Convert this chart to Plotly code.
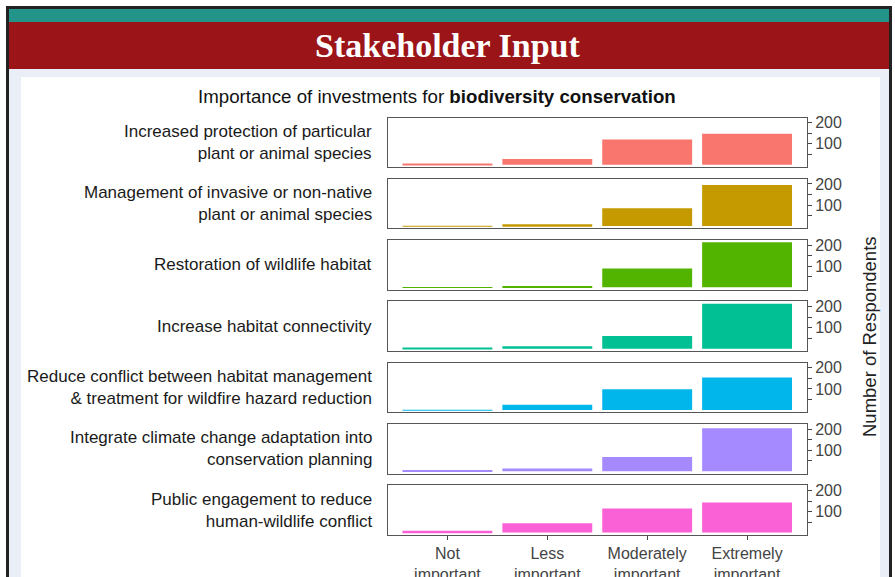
import plotly.graph_objects as go

# DATA
levels = ['Not important', 'Less important', 'Moderately important', 'Extremely important']
level_ticks = ['Not<br>important', 'Less<br>important', 'Moderately<br>important', 'Extremely<br>important']

investments = [
    'Increased protection of particular<br>plant or animal species',
    'Management of invasive or non-native<br>plant or animal species',
    'Restoration of wildlife habitat',
    'Increase habitat connectivity',
    'Reduce conflict between habitat management<br>& treatment for wildfire hazard reduction',
    'Integrate climate change adaptation into<br>conservation planning',
    'Public engagement to reduce<br>human-wildlife conflict',
]

protection = [2, 27, 120, 147]
invasive = [1, 8, 85, 195]
restoration = [1, 6, 90, 214]
connectivity = [3, 12, 60, 214]
wildfire = [1, 25, 98, 154]
climate = [6, 13, 68, 205]
public = [8, 44, 114, 143]

counts = [protection, invasive, restoration, connectivity, wildfire, climate, public]
colors = ['#F8766D', '#C49A00', '#53B400', '#00C094', '#00B6EB', '#A58AFF', '#FB61D7']

W, H = 895, 577


def px_x(x):
    return x / W


def px_y(y):
    return 1 - y / H


fig = go.Figure()

# page decoration (window pixels)
shapes = [
    dict(type='rect', x0=px_x(6), x1=px_x(892), y0=px_y(6), y1=px_y(577), fillcolor='#222222', line_width=0),
    dict(type='rect', x0=px_x(9), x1=px_x(889), y0=px_y(9), y1=px_y(577), fillcolor='#e9eef7', line_width=0),
    dict(type='rect', x0=px_x(9), x1=px_x(889), y0=px_y(9), y1=px_y(22), fillcolor='#22948a', line_width=0),
    dict(type='rect', x0=px_x(9), x1=px_x(889), y0=px_y(22), y1=px_y(69), fillcolor='#9b1418', line_width=0),
    dict(type='rect', x0=px_x(21), x1=px_x(880), y0=px_y(77), y1=px_y(577), fillcolor='#ffffff', line_width=0),
]

x0, x1 = px_x(387.5), px_x(807)
top0, step, ph = 117.5, 61.3, 49.5
sans = 'Liberation Sans, Arial'

annotations = []
for i, (name, vals, col) in enumerate(zip(investments, counts, colors)):
    n = '' if i == 0 else str(i + 1)
    top = top0 + i * step
    fig.add_trace(go.Bar(
        x=levels, y=vals, marker=dict(color=col, line_width=0), width=0.9,
        xaxis='x' + n, yaxis='y' + n, showlegend=False,
    ))
    fig.update_layout(**{
        'xaxis' + n: dict(
            domain=[x0, x1], anchor='y' + n, type='category', range=[-0.6, 3.6],
            automargin=False,
            showline=True, mirror=True, linecolor='#555555', linewidth=1,
            showgrid=False, zeroline=False, fixedrange=True,
            ticks='outside' if i == 6 else '', ticklen=4, tickcolor='#444444',
            showticklabels=(i == 6), tickvals=levels, ticktext=level_ticks,
            tickfont=dict(family=sans, size=16, color='#444444'),
        ),
        'yaxis' + n: dict(
            domain=[px_y(top + ph), px_y(top)], anchor='x' + n, side='right',
            range=[-10.7, 224.7], automargin=False,
            showline=True, mirror=True, linecolor='#555555',
            linewidth=1, showgrid=False, zeroline=False,
            tickvals=[50, 100, 150, 200], ticktext=['', '100', '', '200'],
            ticks='outside', ticklen=4, tickcolor='#444444',
            tickfont=dict(family=sans, size=16, color='#444444'),
        ),
    })
    annotations.append(dict(
        text=name, xref='paper', yref='paper', x=px_x(374), y=px_y(top + ph / 2),
        xanchor='right', yanchor='middle', align='right', showarrow=False,
        font=dict(family=sans, size=17, color='#1a1a1a'),
    ))

annotations += [
    dict(text='<b>Stakeholder Input</b>', xref='paper', yref='paper', x=px_x(448), y=px_y(45),
         xanchor='center', yanchor='middle', showarrow=False,
         font=dict(family='Liberation Serif, serif', size=34, color='white')),
    dict(text='Importance of investments for <b>biodiversity conservation</b>',
         xref='paper', yref='paper', x=px_x(437), y=px_y(96), xanchor='center',
         yanchor='middle', showarrow=False,
         font=dict(family=sans, size=18.7, color='#111111')),
    dict(text='Number of Respondents', xref='paper', yref='paper', x=px_x(869),
         y=px_y(337), xanchor='center', yanchor='middle', textangle=-90,
         showarrow=False, font=dict(family=sans, size=18.5, color='#222222')),
]

fig.update_layout(
    width=W, height=H, margin=dict(l=0, r=0, t=0, b=0),
    paper_bgcolor='white', plot_bgcolor='white',
    shapes=[dict(s, xref='paper', yref='paper', layer='below') for s in shapes],
    annotations=annotations,
)

# drop the default body margin so the figure fills the window exactly
fig.write_html('out.html', config={'displayModeBar': False},
               post_script="document.body.style.margin='0';document.body.style.overflow='hidden';")
